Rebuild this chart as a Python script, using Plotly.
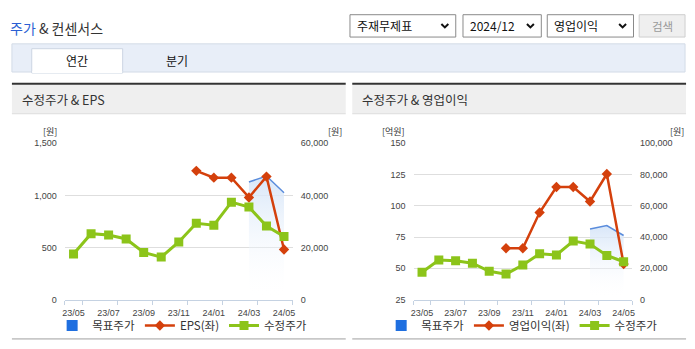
import plotly.graph_objects as go

# ---- data ----
months = ["23/05", "23/06", "23/07", "23/08", "23/09", "23/10", "23/11",
          "23/12", "24/01", "24/02", "24/03", "24/04", "24/05"]
adj_price = [17500, 25300, 24800, 23250, 18100, 16300, 22100,
             29300, 28550, 37400, 35500, 28250, 24200]
target_price = [None] * 10 + [45100, 47400, 41000]
eps = [None] * 7 + [1235, 1170, 1170, 980, 1180, 480]
op_profit = [None] * 5 + [66, 66, 94.6, 115, 115, 103.4, 125.4, 53.4]

eps_ticks = [0, 500, 1000, 1500]
price_ticks_l = [0, 20000, 40000, 60000]
op_ticks = [25, 50, 75, 100, 125, 150]
price_ticks_r = [0, 20000, 40000, 60000, 80000, 100000]

W, H = 695, 349
KR = "Noto Sans CJK KR"
NUM = "Liberation Sans"
C_TARGET = "#5a8cdc"
C_TARGET_KEY = "#1f6fe0"
C_EPS = "#d4400c"
C_PRICE = "#8cc41a"
C_AXIS = "#c5d2e2"
C_GRID = "#dedede"


def px(x):
    return x / W


def py(y):
    return 1 - y / H


xi = list(range(len(months)))


def defined(xs, ys):
    pts = [(a, b) for a, b in zip(xs, ys) if b is not None]
    return [p[0] for p in pts], [p[1] for p in pts]


fig = go.Figure()


def add_panel(xa, ya_main, ya_left, ya_top, left_vals, left_name, legend):
    tx, ty = defined(xi, target_price)
    # target price band (price scale)
    fig.add_trace(go.Scatter(
        x=tx, y=ty, xaxis=xa, yaxis=ya_main, mode="lines",
        line=dict(color=C_TARGET, width=1.5), fill="tozeroy",
        fillgradient=dict(type="vertical",
                          colorscale=[[0, "rgba(255,255,255,0)"],
                                      [1, "rgba(214,229,248,0.95)"]]),
        showlegend=False, hoverinfo="skip"))
    fig.add_trace(go.Scatter(
        x=[None], y=[None], xaxis=xa, yaxis=ya_main, mode="markers",
        marker=dict(symbol="square", size=11, color=C_TARGET_KEY),
        name="목표주가", legend=legend, legendrank=1))
    lx, ly = defined(xi, left_vals)
    fig.add_trace(go.Scatter(
        x=lx, y=ly, xaxis=xa, yaxis=ya_left, mode="lines+markers",
        line=dict(color=C_EPS, width=2.5),
        marker=dict(symbol="diamond", size=8, color=C_EPS),
        name=left_name, legend=legend, legendrank=2))
    fig.add_trace(go.Scatter(
        x=xi, y=adj_price, xaxis=xa, yaxis=ya_top, mode="lines+markers",
        line=dict(color=C_PRICE, width=3),
        marker=dict(symbol="square", size=9, color=C_PRICE),
        name="수정주가", legend=legend, legendrank=3))


add_panel("x", "y", "y2", "y3", eps, "EPS(좌)", "legend")
add_panel("x2", "y4", "y5", "y6", op_profit, "영업이익(좌)", "legend2")

ydom = [py(303.3), py(142.3)]
tickfont = dict(family=NUM, size=9, color="#444")


def xaxis_cfg(x0, x1, anchor):
    return dict(
        domain=[px(x0), px(x1)], anchor=anchor, range=[-0.5, len(months) - 0.5],
        tickmode="array", tickvals=xi[::2], ticktext=months[::2],
        showgrid=False, zeroline=False, showline=True, linecolor=C_AXIS,
        linewidth=1, ticks="", tickfont=tickfont, ticklabelstandoff=5,
        minor=dict(tickmode="array",
                   tickvals=[-0.5] + [v + 0.5 for v in xi[::2]],
                   ticks="outside", ticklen=4, tickcolor=C_AXIS, showgrid=False),
        fixedrange=True)


def price_axis(ticks, anchor, shown, overlay=None):
    d = dict(domain=ydom, anchor=anchor, range=[ticks[0], ticks[-1]],
             tickmode="array", tickvals=ticks, tickformat=",d",
             showgrid=False, zeroline=False, showline=False, side="right",
             tickfont=tickfont, ticklabelstandoff=7, visible=shown,
             fixedrange=True)
    if overlay:
        d["overlaying"] = overlay
    return d


def left_axis(ticks, anchor, overlay):
    return dict(domain=ydom, anchor=anchor, range=[ticks[0], ticks[-1]],
                tickmode="array", tickvals=ticks, tickformat=",d",
                showgrid=True, gridcolor=C_GRID, gridwidth=1,
                zeroline=False, showline=False, side="left",
                overlaying=overlay, tickfont=tickfont, ticklabelstandoff=7,
                fixedrange=True)


fig.update_layout(
    width=W, height=H, autosize=False,
    margin=dict(l=0, r=0, t=0, b=0),
    paper_bgcolor="white", plot_bgcolor="rgba(0,0,0,0)",
    xaxis=xaxis_cfg(62.3, 292.3, "y"),
    yaxis=price_axis(price_ticks_l, "x", True),
    yaxis2=left_axis(eps_ticks, "x", "y"),
    yaxis3=price_axis(price_ticks_l, "x", False, "y"),
    xaxis2=xaxis_cfg(414.2, 634.5, "y4"),
    yaxis4=price_axis(price_ticks_r, "x2", True),
    yaxis5=left_axis(op_ticks, "x2", "y4"),
    yaxis6=price_axis(price_ticks_r, "x2", False, "y4"),
    legend=dict(orientation="h", x=px(180.7), y=py(330), xanchor="center",
                yanchor="middle", font=dict(family=KR, size=11.5, color="#333"),
                bgcolor="rgba(0,0,0,0)", itemwidth=30, tracegroupgap=0),
    legend2=dict(orientation="h", x=px(523.7), y=py(330), xanchor="center",
                 yanchor="middle", font=dict(family=KR, size=11.5, color="#333"),
                 bgcolor="rgba(0,0,0,0)", itemwidth=30, tracegroupgap=0),
    hovermode=False,
)

shapes = []
ann = []


def rect(x0, y0, x1, y1, fill=None, line=None, lw=1):
    shapes.append(dict(type="rect", xref="paper", yref="paper",
                       x0=px(x0), x1=px(x1), y0=py(y1), y1=py(y0),
                       fillcolor=fill or "rgba(0,0,0,0)",
                       line=dict(color=line or "rgba(0,0,0,0)", width=lw if line else 0)))


def text(x, y, s, size, color="#333", family=KR, xanchor="left", pad=1):
    ann.append(dict(xref="paper", yref="paper", x=px(x), y=py(y), text=s,
                    showarrow=False, xanchor=xanchor, yanchor="middle",
                    borderpad=pad,
                    font=dict(family=family, size=size, color=color)))


# page title
text(5, 24, "<span style='color:#2b5fd3'>주가</span> & 컨센서스", 14, "#333")

# selectors
for (x0, x1, label) in [(350, 456.7, "주재무제표"), (464, 543, "2024/12"),
                        (549, 636, "영업이익")]:
    rect(x0, 10, x1, 33, fill="white", line="#8a8a8a")
    text(x0 + 5, 21.5, label, 12, "#111")
    cx = x1 - 11
    shapes.append(dict(type="path", xref="paper", yref="paper",
                       path=f"M {px(cx-3.5)},{py(19.5)} L {px(cx)},{py(23)} L {px(cx+3.5)},{py(19.5)}",
                       line=dict(color="#111", width=2)))
rect(641.7, 10, 688, 33, fill="#efefef", line="#cfcfcf")
text(665, 21.5, "검색", 11.5, "#9a9a9a", xanchor="center")

# period tabs
rect(9, 40, 688, 69, fill="#e8eef8", line="#d3dbe7")
rect(29, 45, 120.7, 70, fill="white", line="#ccd5e3")
rect(29.5, 68, 120.2, 70, fill="white")
text(75, 57.5, "연간", 12, "#111", xanchor="center")
text(176, 57.5, "분기", 12, "#111", xanchor="center")

# chart panels
for (x0, x1, title) in [(9, 345.7, "수정주가 & EPS"), (352.3, 689, "수정주가 & 영업이익")]:
    rect(x0, 82, x1, 112, fill="#efefef")
    rect(x0, 80, x1, 82, fill="#333333")
    rect(x0, 111.5, x1, 112.5, fill="#dddddd")
    rect(x0, 342.7, x1, 344.7, fill="#c8c8c8")
    text(x0 + 8, 97.5, title, 12.5, "#333")

# axis units
text(55, 130.5, "[원]", 9, "#333", xanchor="right", pad=0)
text(327, 130.5, "[원]", 9, "#333", pad=0)
text(407, 130.5, "[억원]", 9, "#333", xanchor="right", pad=0)
text(672, 130.5, "[원]", 9, "#333", pad=0)

fig.update_layout(shapes=shapes, annotations=ann)
fig.write_html("out.html")
